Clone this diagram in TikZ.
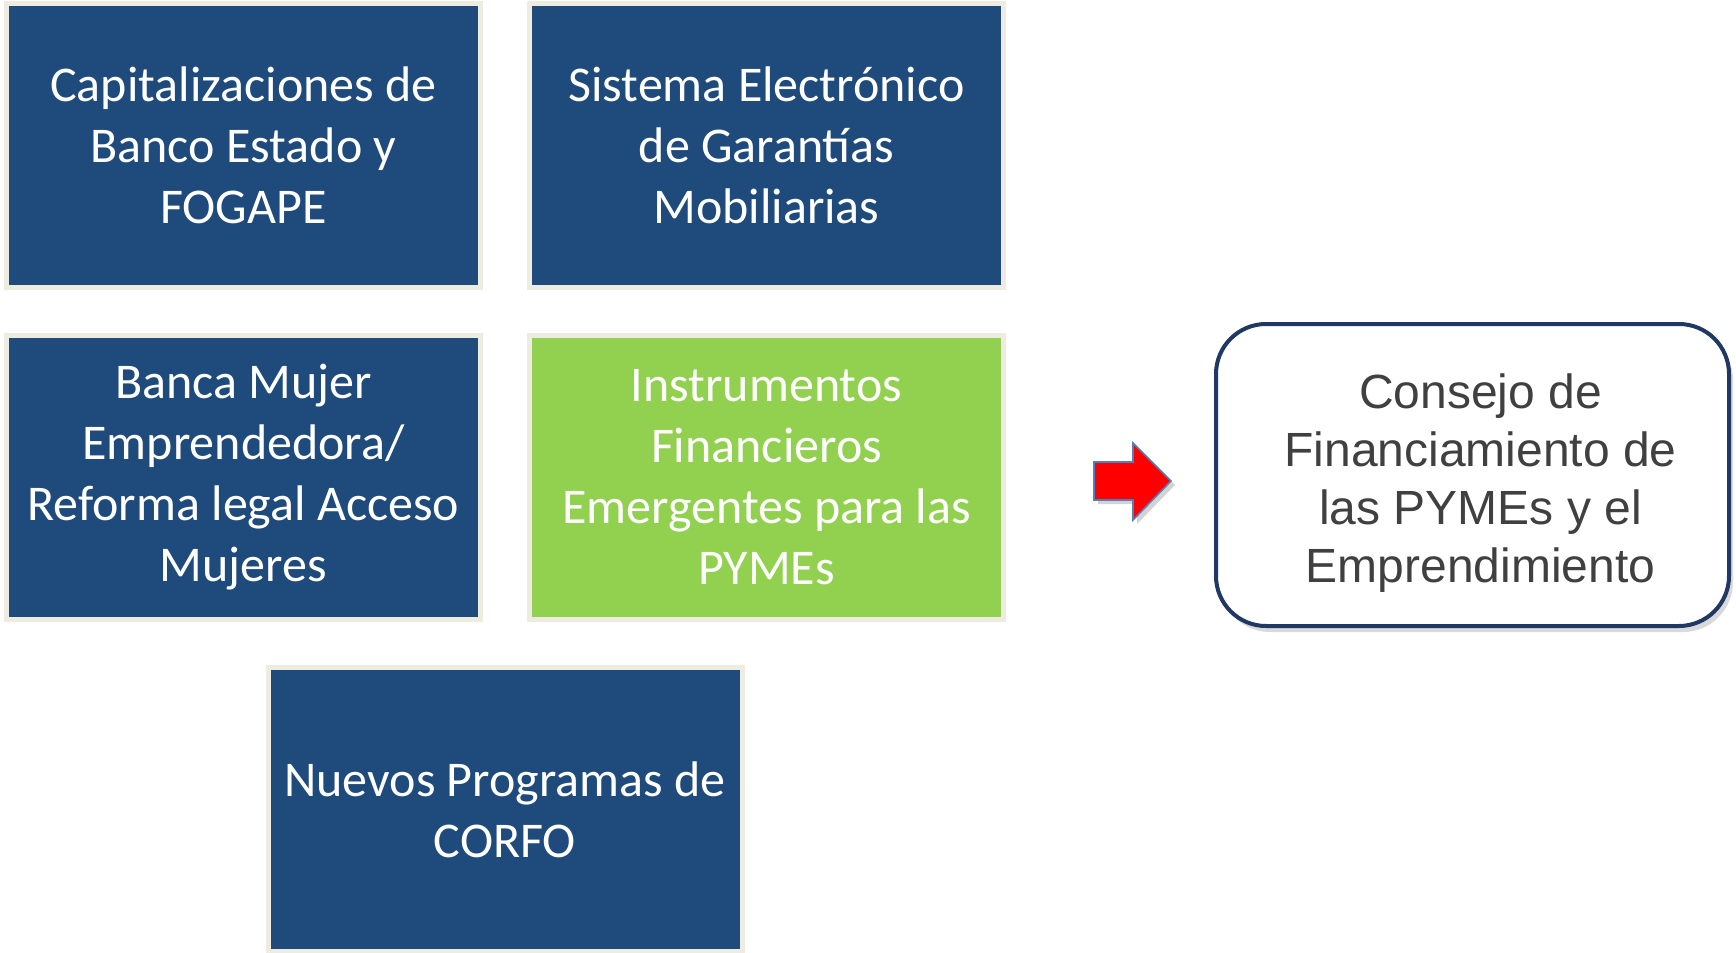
\documentclass[tikz,border=0pt]{standalone}
\usepackage{fontspec}
\usepackage{tikz}
\usetikzlibrary{positioning,shadows}
\newfontfamily\boxfont{Carlito}
\newfontfamily\consejofont{Liberation Sans}
\definecolor{navy}{HTML}{1F4A7C}
\definecolor{cream}{HTML}{EEECE1}
\definecolor{lightgreen}{HTML}{92D050}
\definecolor{darkgraytext}{HTML}{404040}
\definecolor{darknavy}{HTML}{1F3864}
\definecolor{arrowblue}{HTML}{4F81BD}

\begin{document}
\begin{tikzpicture}[x=0.5pt,y=-0.5pt,
    blockbox/.style={draw=cream,line width=2.5pt,fill=navy,text=white,
        minimum width=237pt,minimum height=142pt,inner sep=0pt,align=center,
        font=\boxfont\fontsize{25}{30.5}\selectfont},
    greenbox/.style={blockbox,fill=lightgreen}]
    \useasboundingbox (0,0) rectangle (1736,953);

    % Top row
    \node[blockbox] (capital) at (243.5,145.5) {Capitalizaciones de\\Banco Estado y\\FOGAPE};
    \node[blockbox] (sistema) at (766.5,145.5) {Sistema Electrónico\\de Garantías\\Mobiliarias};

    % Middle row
    \node[blockbox] (banca) at (243.5,477.5) {Banca Mujer\\Emprendedora/\\Reforma legal Acceso\\Mujeres};
    \node[greenbox] (instrum) at (766.5,477.5) {Instrumentos\\Financieros\\Emergentes para las\\PYMEs};

    % Bottom row
    \node[blockbox] (corfo) at (505,809.5) {Nuevos Programas de\\CORFO};

    % Block arrow
    \draw[fill=red,draw=arrowblue,line width=0.8pt,line join=miter,
          drop shadow={opacity=0.35,shadow xshift=2pt,shadow yshift=-2pt}]
        (1094,462) -- (1133,462) -- (1133,443) -- (1171,481)
        -- (1133,520) -- (1133,500) -- (1094,500) -- cycle;

    % Consejo
    \node[draw=darknavy,line width=2pt,fill=white,rounded corners=25pt,
          minimum width=256.5pt,minimum height=151pt,
          drop shadow={opacity=0.3,shadow xshift=2pt,shadow yshift=-3pt}]
        (consejo) at (1472.5,475) {};
    \node[align=center,text=darkgraytext,
          font=\consejofont\fontsize{24}{29}\selectfont]
        (consejotext) at ([xshift=4pt,yshift=-4.2pt]consejo.center) {Consejo de\\Financiamiento de\\las PYMEs y el\\Emprendimiento};
\end{tikzpicture}
\end{document}
